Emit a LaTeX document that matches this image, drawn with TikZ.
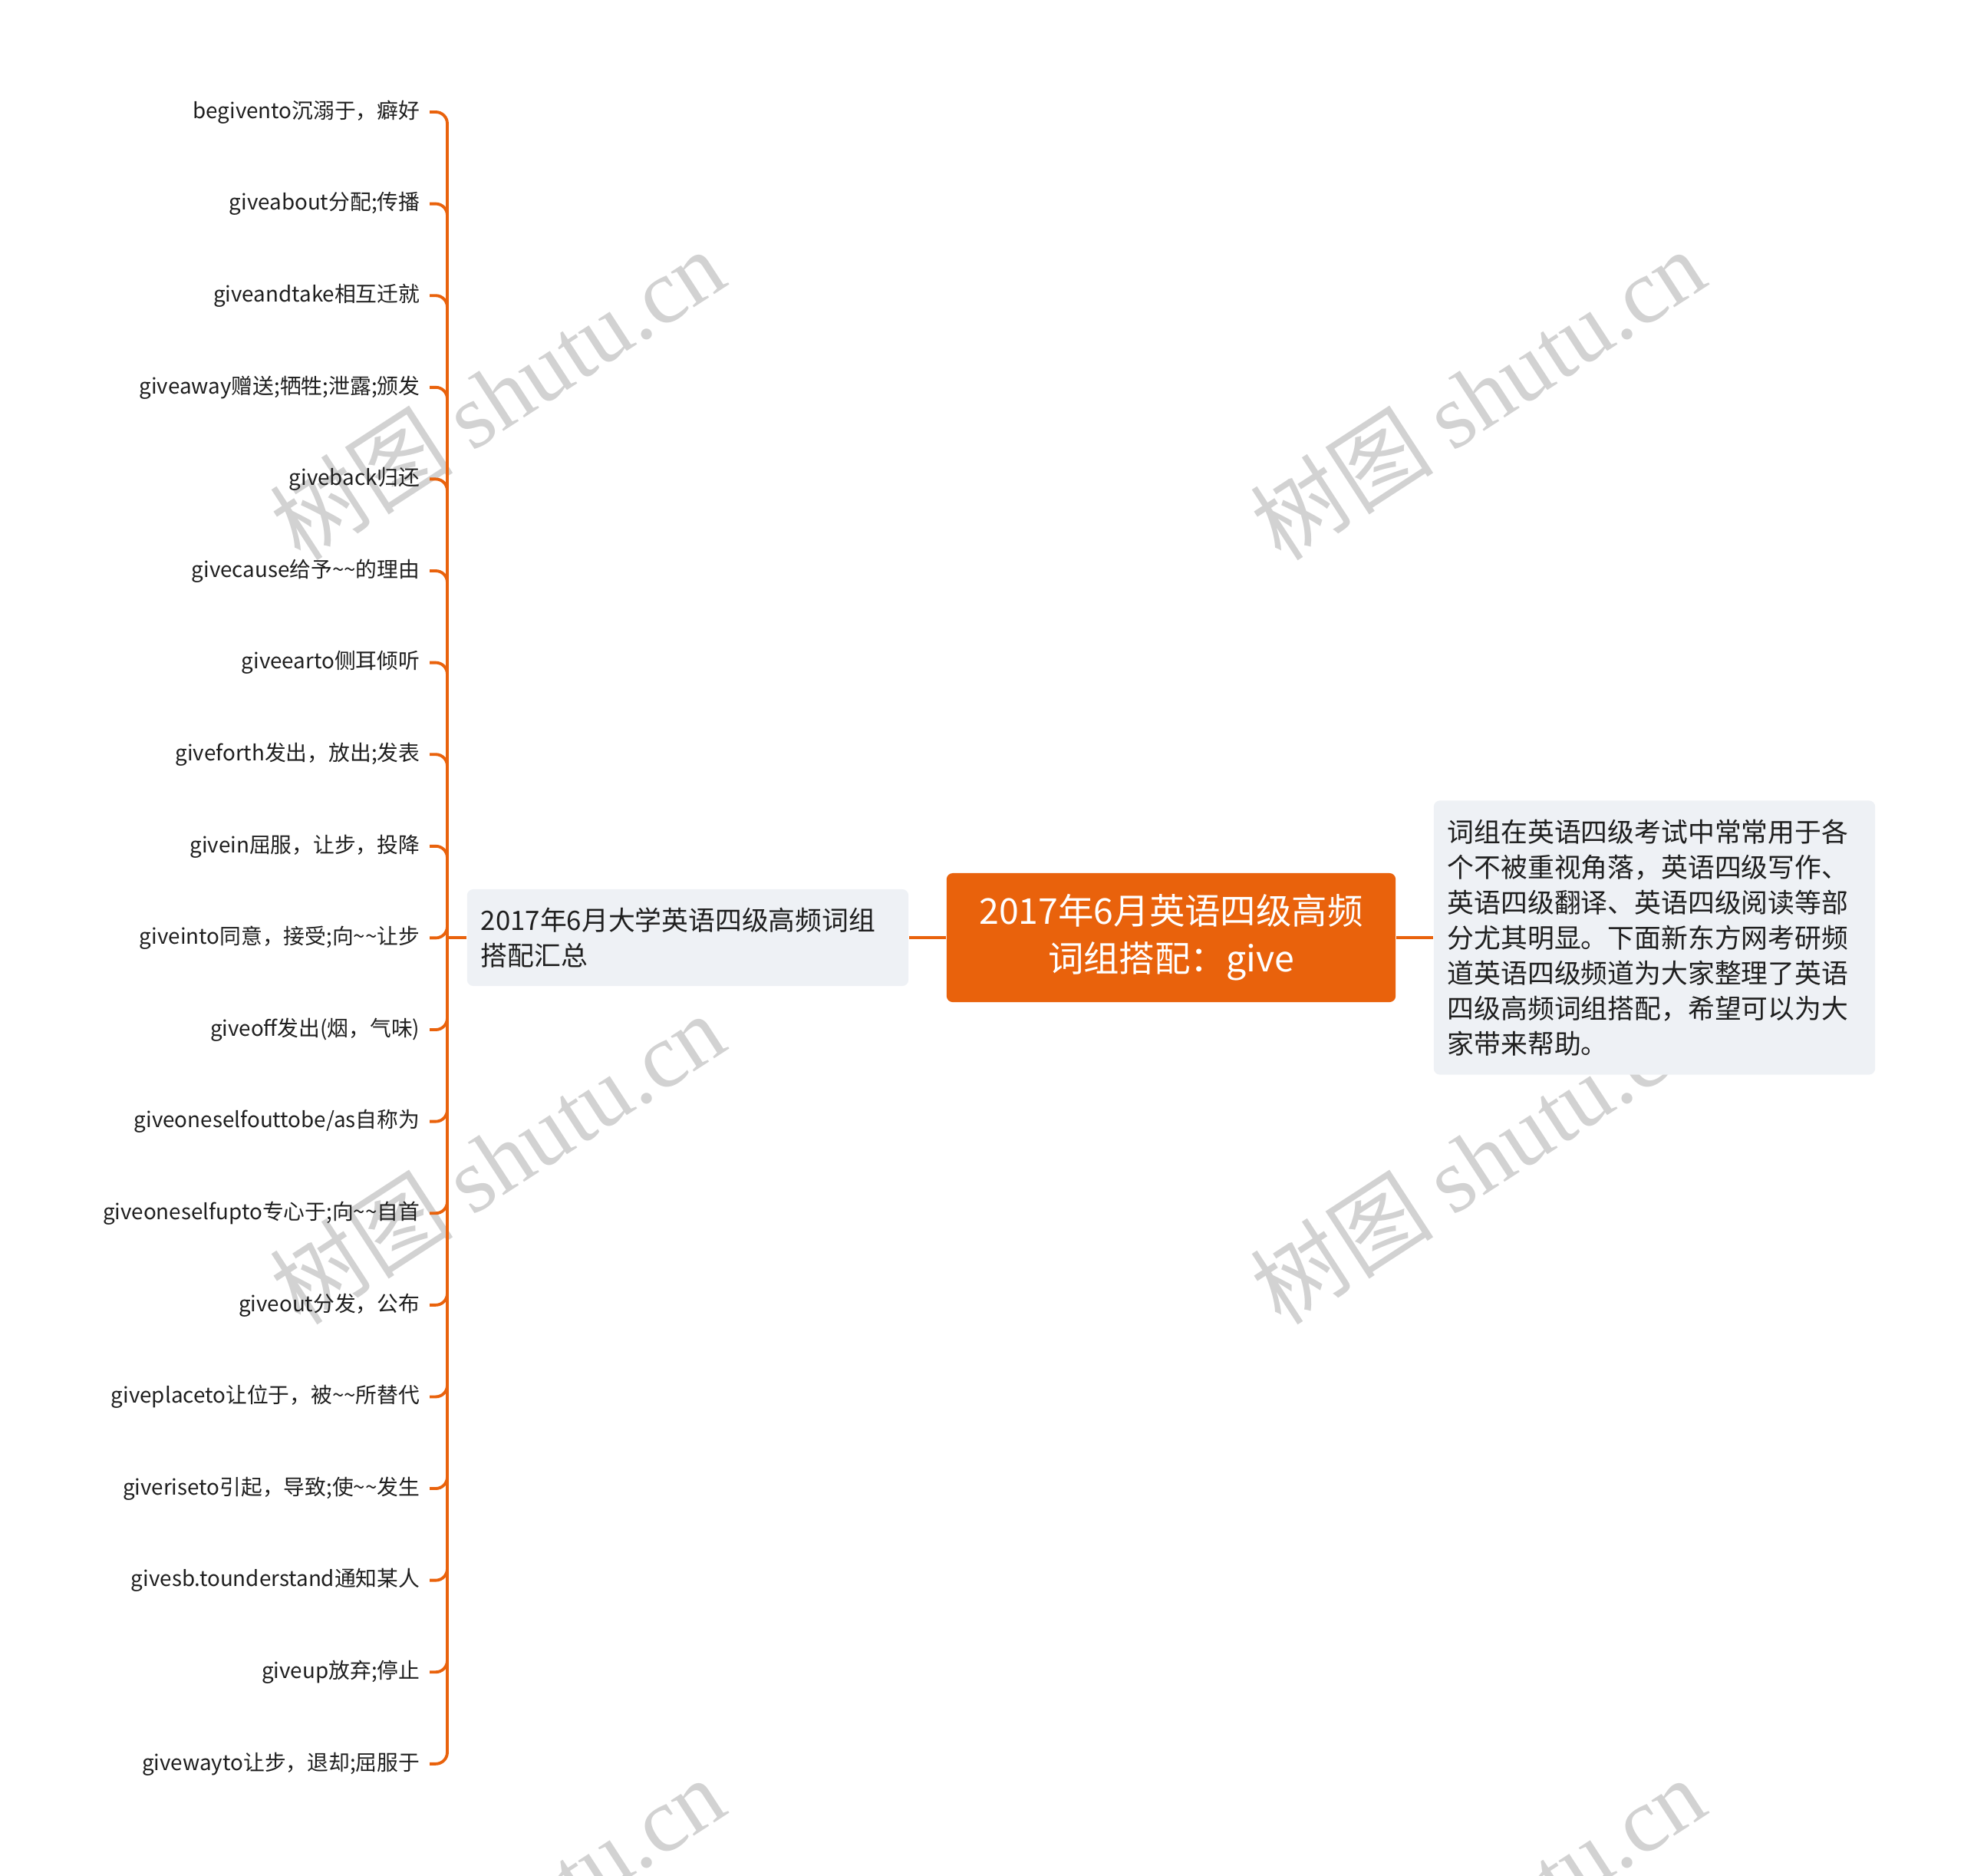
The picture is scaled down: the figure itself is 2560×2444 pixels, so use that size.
\documentclass[tikz,border=0pt]{standalone}
\usepackage{fontspec}
\setmainfont{Noto Sans CJK SC}
\newfontfamily\wmfont{Liberation Serif}
\usepackage{xcolor}
\usetikzlibrary{positioning}
\definecolor{camdam}{HTML}{E9620C}
\definecolor{nenxam}{HTML}{EEF1F5}
\definecolor{vanmo}{HTML}{D2D2D2}
\newcommand{\tilda}{\textasciitilde}

\begin{document}
\begin{tikzpicture}[x=0.01cm, y=-0.01cm,
    link/.style={draw=camdam, line width=1.1pt, rounded corners=0.15cm},
    leaf/.style={anchor=east, inner xsep=0.12cm, inner ysep=0.05cm,
        font=\fontsize{7.9}{9}\selectfont, text=black!88},
    hop/.style={fill=nenxam, rounded corners=0.08cm, minimum width=5.75cm,
        text width=5.39cm, align=left, inner xsep=0.18cm,
        font=\fontsize{9.9}{13.1}\selectfont, text=black!88},
    goc/.style={fill=camdam, rounded corners=0.08cm, minimum width=5.85cm,
        minimum height=1.68cm, align=center, text=white,
        font=\fontsize{13.2}{17.6}\selectfont},
    watermark/.style={text=vanmo, rotate=33, font=\fontsize{34}{34}\selectfont}]

    \useasboundingbox (0,0) rectangle (2560,2444);

    % Chữ chìm
    \begin{scope}
        \clip (0,0) rectangle (2560,2444);
        \foreach \wx in {648,1926}
            \foreach \wy in {514,1510,2506}
                \node[watermark] at (\wx,\wy) {树图 {\wmfont shutu.cn}};
    \end{scope}

    % Các nút chính
    \node[goc] (goc) at (1526.5,1222) {2017年6月英语四级高频\\词组搭配：give};
    \node[hop, minimum height=1.26cm] (tonghop) at (896.5,1222)
        {2017年6月大学英语四级高频词组\\搭配汇总};
    \node[hop, minimum height=3.57cm] (mota) at (2156.5,1222)
        {词组在英语四级考试中常常用于各\\个不被重视角落，英语四级写作、\\英语四级翻译、英语四级阅读等部\\分尤其明显。下面新东方网考研频\\道英语四级频道为大家整理了英语\\四级高频词组搭配，希望可以为大\\家带来帮助。};

    % Trục dọc
    \coordinate (truc) at (583,1222);

    % Các cụm từ
    \foreach \t [count=\i] in {begivento沉溺于，癖好, giveabout分配;传播,
        giveandtake相互迁就, giveaway赠送;牺牲;泄露;颁发, giveback归还,
        givecause给予\tilda\tilda 的理由, giveearto侧耳倾听, giveforth发出，放出;发表,
        givein屈服，让步，投降, giveinto同意，接受;向\tilda\tilda 让步,
        {giveoff发出(烟，气味)}, {giveoneselfouttobe/as自称为},
        giveoneselfupto专心于;向\tilda\tilda 自首, giveout分发，公布,
        giveplaceto让位于，被\tilda\tilda 所替代, giveriseto引起，导致;使\tilda\tilda 发生,
        givesb.tounderstand通知某人, giveup放弃;停止, givewayto让步，退却;屈服于}
        \node[leaf] (la\i) at (560, {146+(\i-1)*119.6}) {\t};

    % Đường nối
    \foreach \i in {1,...,19}
        \draw[link] (truc) |- (la\i.east);
    \draw[link] (tonghop.west) -- (truc);
    \draw[link] (tonghop.east) -- (goc.west);
    \draw[link] (goc.east) -- (mota.west);
\end{tikzpicture}
\end{document}
